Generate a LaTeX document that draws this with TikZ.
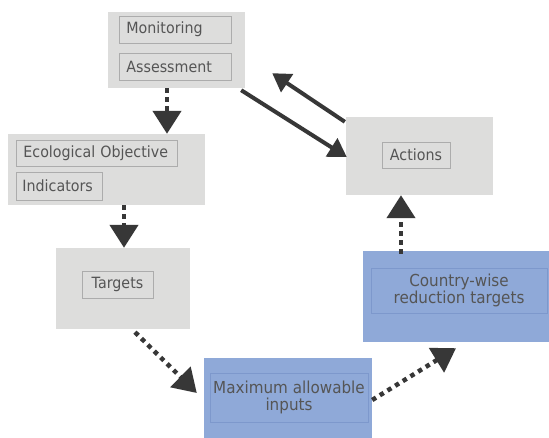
\documentclass[tikz,border=0pt]{standalone}
\usepackage{fontspec}
\setmainfont{DejaVu Sans}
\newfontfamily\tagfont{DejaVu Sans}[FakeStretch=0.92]
\usetikzlibrary{arrows.meta,calc}
\definecolor{boxgray}{RGB}{221,221,220}
\definecolor{innergray}{RGB}{172,172,172}
\definecolor{boxblue}{RGB}{143,169,216}
\definecolor{innerblue}{RGB}{125,152,204}
\definecolor{txt}{RGB}{85,85,85}
\definecolor{arr}{RGB}{55,55,55}
\begin{document}
\begin{tikzpicture}[x=1pt,y=-1pt,
  outergray/.style={fill=boxgray,draw=none,inner sep=0pt},
  outerblue/.style={fill=boxblue,draw=none,inner sep=0pt},
  tagbox/.style={draw=innergray,line width=0.8pt,fill=boxgray,inner sep=0pt,text=txt,font=\tagfont\fontsize{15.5}{17}\selectfont},
  lefttag/.style={tagbox,anchor=west,inner xsep=7pt,align=left},
  bluetag/.style={draw=innerblue,line width=0.6pt,fill=boxblue,inner sep=0pt,text=txt,align=center,font=\tagfont\fontsize{16.5}{17}\selectfont},
  dotarrow/.style={draw=arr,line width=4.5pt,dash pattern=on 4.5pt off 4.5pt,-{Triangle[length=23pt,width=28pt]}},
  solidarrow/.style={draw=arr,line width=4pt,-{Triangle[length=18pt,width=21pt]}}
]
\useasboundingbox[fill=white] (0,0) rectangle (549,438);
% outer boxes
\node[outergray,minimum width=137pt,minimum height=76pt] (mon) at (176.5,50) {};
\node[outergray,minimum width=197pt,minimum height=71pt] (eco) at (106.5,169.5) {};
\node[outergray,minimum width=147pt,minimum height=78pt] (act) at (419.5,156) {};
\node[outergray,minimum width=134pt,minimum height=81pt] (tgt) at (123,288.5) {};
\node[outerblue,minimum width=186pt,minimum height=91pt] (cty) at (456,296.5) {};
\node[outerblue,minimum width=168pt,minimum height=80pt] (max) at (288,398) {};
% inner text boxes
\node[lefttag,minimum height=27pt,text width=98pt] (monT) at (119,29.5) {Monitoring};
\node[lefttag,minimum height=27pt,text width=98pt] (assT) at (119,66.5) {Assessment};
\node[lefttag,minimum height=26pt,text width=147pt] (ecoT) at (16,153) {Ecological Objective};
\node[lefttag,minimum height=28pt,text width=74pt,inner xsep=6pt] (indT) at (16,186) {Indicators};
\node[tagbox,minimum width=68pt,minimum height=26pt] (actT) at (416,155) {Actions};
\node[tagbox,minimum width=71pt,minimum height=27pt] (tgtT) at (117.5,284.5) {Targets};
\node[bluetag,minimum width=176pt,minimum height=45pt] (ctyT) at (459,290.5) {Country-wise\\reduction targets};
\node[bluetag,minimum width=158pt,minimum height=49pt] (maxT) at (289,397.5) {Maximum allowable\\inputs};
% dotted arrows
\draw[dotarrow] ([xshift=-9.5pt]mon.south) -- ([xshift=-9.5pt]mon.south |- eco.north);
\draw[dotarrow] ([xshift=17.5pt]eco.south) -- ([xshift=17.5pt]eco.south |- tgt.north);
\draw[dotarrow] ([xshift=12pt,yshift=-3pt]tgt.south) -- ([xshift=-7pt,yshift=5pt]max.west);
\draw[dotarrow] ([yshift=-2pt]max.east) -- ([yshift=-6pt]cty.south);
\draw[dotarrow] ([xshift=-55pt,yshift=-3pt]cty.north) -- ([xshift=-55pt]cty.north |- act.south);
% solid arrows
\draw[solidarrow] ([xshift=-4pt,yshift=-2pt]mon.south east) -- ([xshift=1pt,yshift=-1pt]act.west);
\draw[solidarrow] ([xshift=-1pt,yshift=-5pt]act.north west) -- ([xshift=27pt,yshift=15pt]mon.south east);
\end{tikzpicture}
\end{document}
